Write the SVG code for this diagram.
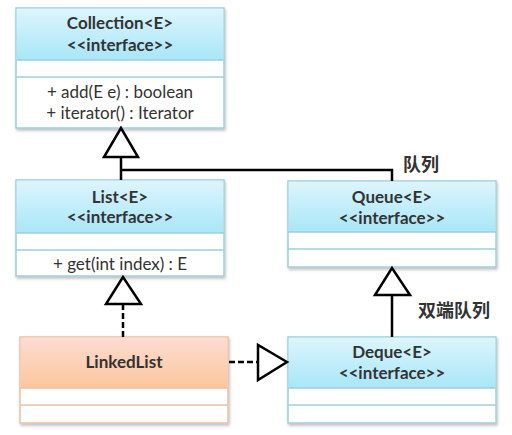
<svg xmlns="http://www.w3.org/2000/svg" width="512" height="435" viewBox="0 0 512 435">
<defs>
<linearGradient id="gBlue" x1="0" y1="0" x2="0" y2="1">
<stop offset="0" stop-color="#dcf5fd"/>
<stop offset="1" stop-color="#a9e6f8"/>
</linearGradient>
<linearGradient id="gOrange" x1="0" y1="0" x2="0" y2="1">
<stop offset="0" stop-color="#fcdcd2"/>
<stop offset="1" stop-color="#fcc69c"/>
</linearGradient>
<filter id="sh" x="-5%" y="-5%" width="110%" height="115%">
<feDropShadow dx="1" dy="2" stdDeviation="1.5" flood-color="#000" flood-opacity="0.25"/>
</filter>
</defs>
<style>
.box{fill:#fff;stroke:#9ccfdb;stroke-width:1.5;filter:url(#sh)}
.boxo{fill:#fff;stroke:#ecbfa4;stroke-width:1.5;filter:url(#sh)}
.sep{stroke:#9ccfdb;stroke-width:1.5}
.sepo{stroke:#ecbfa4;stroke-width:1.5}
.t{font-family:Lato,"Open Sans","Liberation Sans",sans-serif;font-size:17px;fill:#333;text-anchor:middle}
.b{font-weight:bold}
.cjk{font-family:"Noto Sans CJK SC",sans-serif;font-size:18px;font-weight:bold;fill:#333}
.ln{fill:none;stroke:#000;stroke-width:2.5}
.dash{stroke-dasharray:6 3}
.tri{fill:#fff;stroke:#000;stroke-width:2.5;stroke-linejoin:miter}
</style>
<g id="Collection">
<rect class="box" x="16" y="8" width="208" height="120"/>
<rect x="16.75" y="8.75" width="206.5" height="51.25" fill="url(#gBlue)"/>
<line class="sep" x1="16" y1="60" x2="224" y2="60"/>
<line class="sep" x1="16" y1="77" x2="224" y2="77"/>
<text class="t b" x="120" y="29">Collection&lt;E&gt;</text>
<text class="t b" x="120" y="51">&lt;&lt;interface&gt;&gt;</text>
<text class="t" x="120" y="98">+ add(E e) : boolean</text>
<text class="t" x="120" y="119">+ iterator() : Iterator</text>
</g>
<g id="List">
<rect class="box" x="16" y="180" width="208" height="96"/>
<rect x="16.75" y="180.75" width="206.5" height="52.25" fill="url(#gBlue)"/>
<line class="sep" x1="16" y1="233" x2="224" y2="233"/>
<line class="sep" x1="16" y1="250" x2="224" y2="250"/>
<text class="t b" x="120" y="203">List&lt;E&gt;</text>
<text class="t b" x="120" y="223">&lt;&lt;interface&gt;&gt;</text>
<text class="t" x="120" y="270">+ get(int index) : E</text>
</g>
<g id="Queue">
<rect class="box" x="288" y="181" width="208" height="86"/>
<rect x="288.75" y="181.75" width="206.5" height="50.25" fill="url(#gBlue)"/>
<line class="sep" x1="288" y1="232" x2="496" y2="232"/>
<line class="sep" x1="288" y1="249" x2="496" y2="249"/>
<text class="t b" x="392" y="203">Queue&lt;E&gt;</text>
<text class="t b" x="392" y="224">&lt;&lt;interface&gt;&gt;</text>
</g>
<g id="LinkedList">
<rect class="boxo" x="20" y="337" width="208" height="86"/>
<rect x="20.75" y="337.75" width="206.5" height="50.25" fill="url(#gOrange)"/>
<line class="sepo" x1="20" y1="388" x2="228" y2="388"/>
<line class="sepo" x1="20" y1="405" x2="228" y2="405"/>
<text class="t b" x="124" y="368">LinkedList</text>
</g>
<g id="Deque">
<rect class="box" x="288" y="337" width="208" height="86"/>
<rect x="288.75" y="337.75" width="206.5" height="50.25" fill="url(#gBlue)"/>
<line class="sep" x1="288" y1="388" x2="496" y2="388"/>
<line class="sep" x1="288" y1="405" x2="496" y2="405"/>
<text class="t b" x="392" y="358">Deque&lt;E&gt;</text>
<text class="t b" x="392" y="379">&lt;&lt;interface&gt;&gt;</text>
</g>
<g id="connectors">
<polyline class="ln" points="121,157 121,180"/>
<polyline class="ln" points="121,170 392,170 392,181"/>
<polygon class="tri" points="121,128 104,157 138,157"/>
<text class="cjk" x="403" y="171">队列</text>
<line class="ln dash" x1="123" y1="304" x2="123" y2="337"/>
<polygon class="tri" points="123,277 106,304 141,304"/>
<line class="ln" x1="392" y1="295" x2="392" y2="337"/>
<polygon class="tri" points="392,268 375,295 410,295"/>
<text class="cjk" x="418" y="317">双端队列</text>
<line class="ln dash" x1="229" y1="362" x2="258" y2="362"/>
<polygon class="tri" points="287,362 258,345 258,380"/>
</g>
</svg>
